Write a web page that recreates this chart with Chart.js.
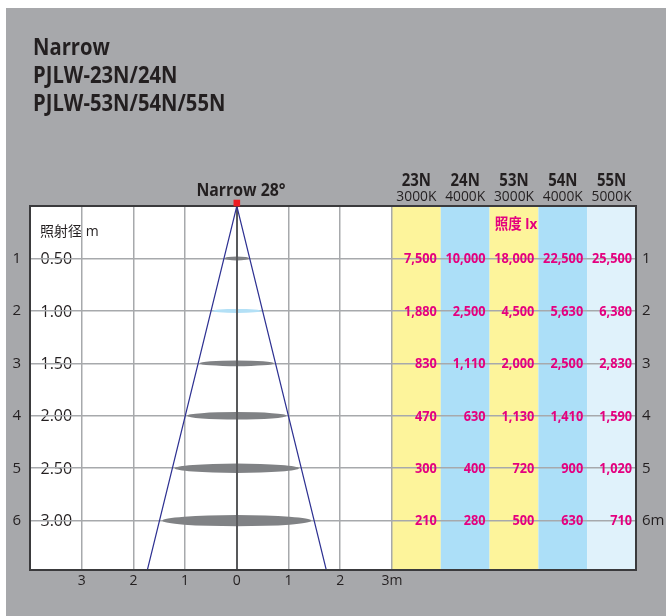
<!DOCTYPE html>
<html><head><meta charset="utf-8">
<script src="https://cdn.jsdelivr.net/npm/chart.js@4"></script>
<style>html,body{margin:0;padding:0;background:#fff}canvas{display:block}</style>
</head><body>
<canvas id="c" width="666" height="616"></canvas>
<script>
// ---- data ----
const titleLines = ['Narrow', 'PJLW-23N/24N', 'PJLW-53N/54N/55N'];
const beamLabel = 'Narrow 28°';
const beamAngle = 28;                       // degrees
const distances = [1, 2, 3, 4, 5, 6];       // m
const spotDiameters = [0.50, 1.00, 1.50, 2.00, 2.50, 3.00]; // m
const diameterHeader = '照射径 m';
const luxHeader = '照度 lx';
const models = ['23N', '24N', '53N', '54N', '55N'];
const colorTemps = ['3000K', '4000K', '3000K', '4000K', '5000K'];
const lux23N = [7500, 1880, 830, 470, 300, 210];
const lux24N = [10000, 2500, 1110, 630, 400, 280];
const lux53N = [18000, 4500, 2000, 1130, 720, 500];
const lux54N = [22500, 5630, 2500, 1410, 900, 630];
const lux55N = [25500, 6380, 2830, 1590, 1020, 710];
const luxTable = [lux23N, lux24N, lux53N, lux54N, lux55N];
const xTickValues = [-3, -2, -1, 0, 1, 2, 3];

// ---- styles ----
const FONT = "'Open Sans','Noto Sans','Noto Sans CJK JP',sans-serif";
const DARK = '#231f20';
const MAG = '#e4007f';
const columnColors = ['#fdf49b', '#acdff8', '#fdf49b', '#acdff8', '#e0f2fb'];
const spotColors = ['#808285', '#b3e0f6', '#808285', '#808285', '#808285', '#808285'];
const X_MIN = -4, X_MAX = 7.72, Y_MIN = 0, Y_MAX = 6.94;

function drawText(ctx, s, x, y, o) {
  ctx.save();
  ctx.font = (o.weight || 'normal') + ' ' + o.size + 'px ' + FONT;
  ctx.fillStyle = o.color || DARK;
  ctx.textBaseline = 'alphabetic';
  ctx.textAlign = o.align || 'left';
  ctx.translate(x, y);
  ctx.scale(o.sx || 1, 1);
  ctx.fillText(s, 0, 0);
  ctx.restore();
}

const artPlugin = {
  id: 'art',
  beforeDraw(chart) {
    const { ctx, chartArea: a, scales: { x, y } } = chart;
    ctx.save();
    ctx.fillStyle = '#fff';
    ctx.fillRect(0, 0, chart.width, chart.height);
    ctx.fillStyle = '#a7a8ab';
    ctx.fillRect(6, 8, chart.width - 6, chart.height - 8);
    ctx.fillStyle = '#fff';
    ctx.fillRect(a.left, a.top, a.right - a.left, a.bottom - a.top);

    // title
    titleLines.forEach((t, i) => drawText(ctx, t, 33, 55 + i * 28, { size: 23, weight: 'bold', sx: 0.88 }));
    drawText(ctx, beamLabel, 241, 196, { size: 18, weight: 'bold', sx: 0.88, align: 'center' });

    // columns
    const colW = (x.max - 3) / models.length;
    models.forEach((m, i) => {
      const x0 = x.getPixelForValue(3 + i * colW), x1 = x.getPixelForValue(3 + (i + 1) * colW);
      ctx.fillStyle = columnColors[i];
      ctx.fillRect(x0, a.top, x1 - x0, a.bottom - a.top);
      const cx = (x0 + x1) / 2;
      drawText(ctx, m, cx, 186, { size: 17, weight: 'bold', sx: 0.88, align: 'center' });
      drawText(ctx, colorTemps[i], cx, 200.5, { size: 15, sx: 0.92, align: 'center' });
    });

    distances.forEach((d, i) => {
      drawText(ctx, spotDiameters[i].toFixed(2), a.left + 10.5, y.getPixelForValue(d) + 5.7, { size: 16 });
    });
    drawText(ctx, diameterHeader, 40, 236, { size: 14 });
    ctx.restore();
  },
  beforeDatasetsDraw(chart) {
    const { ctx, chartArea: a, scales: { x, y } } = chart;
    ctx.save();
    const cx = x.getPixelForValue(0);
    distances.forEach((d, i) => {
      const cy = y.getPixelForValue(d);
      const rx = x.getPixelForValue(spotDiameters[i] / 2) - cx;
      const ry = Math.max(2, rx * 0.072);
      ctx.fillStyle = spotColors[i];
      ctx.beginPath();
      ctx.ellipse(cx, cy, rx * 0.96, ry, 0, 0, Math.PI * 2);
      ctx.fill();
    });
    // centre axis line over the spots
    ctx.strokeStyle = '#58595b';
    ctx.lineWidth = 2;
    ctx.beginPath();
    ctx.moveTo(Math.round(cx), a.top);
    ctx.lineTo(Math.round(cx), a.bottom);
    ctx.stroke();
    ctx.restore();
  },
  afterDraw(chart) {
    const { ctx, chartArea: a, scales: { x, y } } = chart;
    ctx.save();
    // values
    const colW = (x.max - 3) / models.length;
    luxTable.forEach((col, i) => {
      const x1 = x.getPixelForValue(3 + (i + 1) * colW);
      col.forEach((v, j) => {
        drawText(ctx, v.toLocaleString('en-US'), x1 - 4, y.getPixelForValue(distances[j]) + 4.8,
          { size: 15, weight: 'bold', sx: 0.85, align: 'right', color: MAG });
      });
    });
    const cMid = (x.getPixelForValue(3 + 2 * colW) + x.getPixelForValue(3 + 3 * colW)) / 2;
    drawText(ctx, luxHeader, cMid + 2, 229, { size: 15, weight: 'bold', sx: 0.9, align: 'center', color: MAG });
    // frame
    ctx.strokeStyle = '#3a3a3c';
    ctx.lineWidth = 2;
    ctx.strokeRect(a.left, a.top, a.right - a.left, a.bottom - a.top);
    // source
    const sx = x.getPixelForValue(0), sy = y.getPixelForValue(0) - 3;
    ctx.fillStyle = '#ed1c24';
    ctx.fillRect(sx - 3.3, sy - 3.3, 6.6, 6.6);
    ctx.restore();
  }
};

const half = Y_MAX * Math.tan(beamAngle / 2 * Math.PI / 180);
const beamEdge = [{ x: -half, y: Y_MAX }, { x: 0, y: 0 }, { x: half, y: Y_MAX }];

Chart.defaults.font.family = FONT;
Chart.defaults.color = DARK;

new Chart(document.getElementById('c'), {
  type: 'scatter',
  data: {
    datasets: [{
      data: beamEdge,
      showLine: true,
      borderColor: '#2e3192',
      borderWidth: 1.2,
      pointRadius: 0,
      fill: false
    }]
  },
  options: {
    responsive: false,
    devicePixelRatio: 1,
    animation: false,
    layout: { padding: { top: 206, left: 0, right: 0, bottom: 0 } },
    plugins: { legend: { display: false }, tooltip: { enabled: false } },
    scales: {
      x: {
        type: 'linear', position: 'bottom', min: X_MIN, max: X_MAX,
        afterFit(s) { s.height = 46; },
        afterBuildTicks(s) { s.ticks = xTickValues.map(v => ({ value: v })); },
        border: { display: false },
        grid: {
          drawTicks: false,
          color: c => (c.tick && c.tick.value === 0) ? '#58595b' : '#a7a9ac',
          lineWidth: c => (c.tick && c.tick.value === 0) ? 2 : 1.5
        },
        ticks: {
          padding: 3, color: DARK, font: { size: 14 }, maxRotation: 0, autoSkip: false,
          callback: v => v === xTickValues[xTickValues.length - 1] ? v + 'm' : String(Math.abs(v))
        }
      },
      y: {
        type: 'linear', position: 'left', reverse: true, min: Y_MIN, max: Y_MAX,
        afterFit(s) { s.width = 30; },
        afterBuildTicks(s) { s.ticks = distances.map(v => ({ value: v })); },
        border: { display: false },
        grid: { drawTicks: false, color: '#a7a9ac', lineWidth: 1.5 },
        ticks: { padding: 9, color: DARK, font: { size: 15 }, callback: v => String(v) }
      },
      y2: {
        type: 'linear', position: 'right', reverse: true, min: Y_MIN, max: Y_MAX,
        afterFit(s) { s.width = 30; },
        afterBuildTicks(s) { s.ticks = distances.map(v => ({ value: v })); },
        border: { display: false },
        grid: { drawOnChartArea: false, drawTicks: true, tickLength: 4, color: '#a7a9ac', lineWidth: 1.5 },
        ticks: { padding: 2, color: DARK, font: { size: 15 },
          callback: v => v === distances[distances.length - 1] ? v + 'm' : String(v) }
      }
    }
  },
  plugins: [artPlugin]
});
</script>
</body></html>
